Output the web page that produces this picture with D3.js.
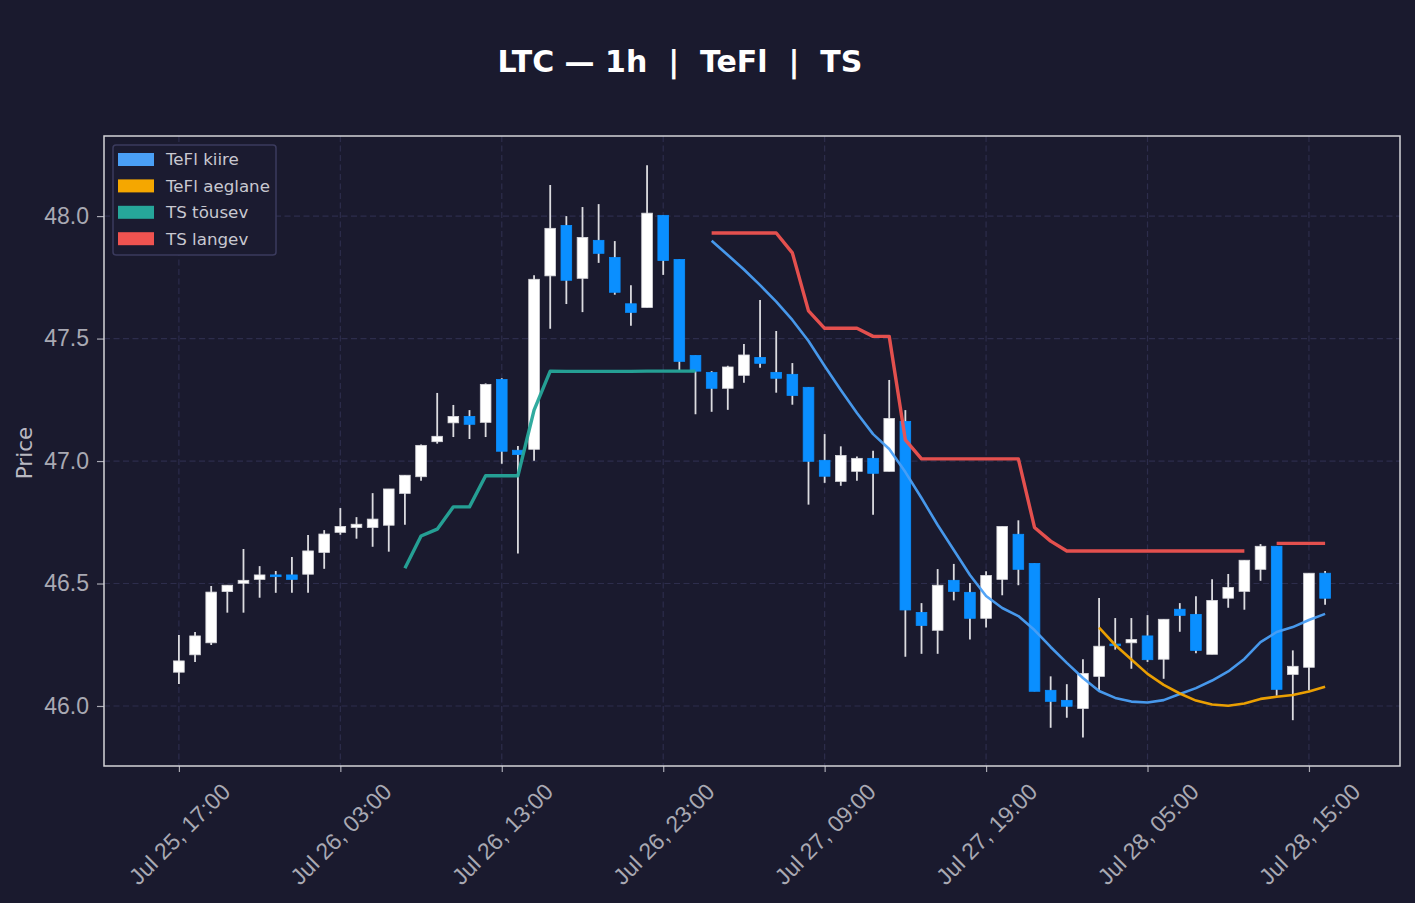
<!DOCTYPE html>
<html>
<head>
<meta charset="utf-8">
<script src="https://cdn.jsdelivr.net/npm/d3@7"></script>
<style>
  html, body { margin: 0; padding: 0; background: #1a1a2e; }
  svg { display: block; font-family: "DejaVu Sans", sans-serif; }
</style>
</head>
<body>
<svg id="chart" width="1415" height="903"></svg>
<script>
// ---------- DATA ----------
const startTime = "2024-07-25T17:00:00";
const opens  = [46.138,46.209,46.258,46.467,46.501,46.517,46.535,46.535,46.538,46.627,
                46.709,46.729,46.729,46.738,46.868,46.936,47.079,47.156,47.182,47.158,
                47.333,47.044,47.048,47.756,47.962,47.746,47.901,47.831,47.642,47.627,
                48.003,47.823,47.431,47.362,47.297,47.350,47.423,47.362,47.354,47.301,
                47.003,46.917,46.958,47.011,46.958,47.162,46.382,46.309,46.513,46.464,
                46.358,46.517,46.701,46.582,46.064,46.023,45.990,46.121,46.253,46.258,
                46.286,46.191,46.395,46.374,46.211,46.440,46.468,46.558,46.652,46.129,
                46.158,46.542];
const highs  = [46.290,46.302,46.490,46.493,46.641,46.571,46.551,46.608,46.698,46.718,
                46.808,46.771,46.869,46.886,46.942,47.068,47.278,47.229,47.208,47.317,
                47.338,47.061,47.758,48.127,48.000,48.037,48.049,47.898,47.718,48.208,
                48.003,47.823,47.431,47.367,47.389,47.478,47.657,47.531,47.400,47.301,
                47.110,47.060,47.019,47.042,47.331,47.208,46.420,46.559,46.580,46.502,
                46.550,46.733,46.758,46.582,46.121,46.089,46.191,46.441,46.359,46.359,
                46.371,46.354,46.420,46.448,46.517,46.539,46.595,46.661,46.652,46.227,
                46.542,46.551];
const lows   = [46.090,46.180,46.249,46.381,46.381,46.442,46.462,46.462,46.462,46.560,
                46.699,46.683,46.650,46.630,46.740,46.920,47.071,47.098,47.090,47.098,
                46.989,46.623,47.001,47.540,47.641,47.608,47.809,47.679,47.552,47.627,
                47.760,47.371,47.191,47.201,47.209,47.320,47.381,47.279,47.230,46.822,
                46.911,46.899,46.920,46.781,46.958,46.201,46.213,46.213,46.431,46.271,
                46.320,46.452,46.493,46.060,45.911,45.952,45.871,46.064,46.230,46.152,
                46.180,46.111,46.303,46.215,46.211,46.401,46.393,46.511,46.042,45.942,
                46.064,46.413];
const closes = [46.184,46.286,46.465,46.493,46.513,46.535,46.528,46.517,46.633,46.702,
                46.733,46.742,46.763,46.886,46.942,47.064,47.101,47.182,47.150,47.313,
                47.040,47.027,47.742,47.950,47.738,47.913,47.848,47.689,47.607,48.012,
                47.819,47.407,47.367,47.297,47.384,47.433,47.399,47.338,47.268,46.999,
                46.938,47.023,47.011,46.950,47.174,46.392,46.329,46.493,46.468,46.358,
                46.533,46.733,46.558,46.060,46.019,45.999,46.133,46.244,46.246,46.271,
                46.189,46.354,46.370,46.227,46.431,46.484,46.595,46.652,46.068,46.162,
                46.542,46.440];

const N = null;
const teflFast = [N,N,N,N,N,N,N,N,N,N, N,N,N,N,N,N,N,N,N,N, N,N,N,N,N,N,N,N,N,N, N,N,N,
                47.899,47.841,47.782,47.718,47.651,47.576,47.490,
                47.388,47.290,47.196,47.110,47.049,46.955,46.849,46.739,46.637,46.535,
                46.449,46.400,46.367,46.310,46.241,46.176,46.114,46.061,46.033,46.018,
                46.014,46.024,46.049,46.073,46.104,46.141,46.192,46.261,46.302,46.322,
                46.351,46.376];
const teflSlow = [N,N,N,N,N,N,N,N,N,N, N,N,N,N,N,N,N,N,N,N, N,N,N,N,N,N,N,N,N,N,
                N,N,N,N,N,N,N,N,N,N, N,N,N,N,N,N,N,N,N,N, N,N,N,N,N,N,N,
                46.320,46.249,46.190,46.131,46.086,46.051,46.022,46.006,46.001,46.010,
                46.029,46.038,46.045,46.059,46.079];
const tsUp = [N,N,N,N,N,N,N,N,N,N, N,N,N,N,
                46.562,46.694,46.722,46.813,46.813,46.940,46.940,46.940,47.208,47.367,
                47.366,47.366,47.366,47.366,47.366,47.367,47.367,47.367,47.367,
                N,N,N,N,N,N,N,N,N,N, N,N,N,N,N,N,N,N,N,N, N,N,N,N,N,N,N,N,N,N,
                N,N,N,N,N,N,N,N,N];
const tsDown = [N,N,N,N,N,N,N,N,N,N, N,N,N,N,N,N,N,N,N,N, N,N,N,N,N,N,N,N,N,N, N,N,N,
                47.931,47.931,47.931,47.931,47.931,47.850,47.613,
                47.542,47.542,47.542,47.509,47.509,47.086,47.009,47.009,47.009,47.009,
                47.009,47.009,47.009,46.729,46.673,46.633,46.633,46.633,46.633,46.633,
                46.633,46.633,46.633,46.633,46.633,46.633,46.633,N,46.664,46.664,
                46.664,46.664];

const yTicks = [46.0, 46.5, 47.0, 47.5, 48.0];
const xTickEveryHours = 10;
const titleText = "LTC — 1h  |  TeFl  |  TS";
const yLabel = "Price";
const legendNames = ["TeFl kiire", "TeFl aeglane", "TS tõusev", "TS langev"];

// ---------- STYLE ----------
const C = {
  bg: "#1a1a2e", grid: "#2d2d4c", spine: "#d4d4d8", tick: "#a9a9b3",
  up: "#ffffff", down: "#0a8fff", wick: "#dcdce0",
  fast: "#4a9ff5", slow: "#f5a700", tsUp: "#26a69a", tsDown: "#ef5350"
};
const legendColors = [C.fast, C.slow, C.tsUp, C.tsDown];

const M = { left: 104, right: 1400, top: 136, bottom: 766 };
const HOUR = 3600 * 1000;
const t0 = new Date(startTime);
const dates = opens.map((_, i) => new Date(t0.getTime() + i * HOUR));

const svg = d3.select("#chart");
svg.append("rect").attr("width", 1415).attr("height", 903).attr("fill", C.bg);

const x = d3.scaleTime()
  .domain([new Date(t0.getTime() - 4.64 * HOUR), new Date(t0.getTime() + 75.64 * HOUR)])
  .range([M.left, M.right]);
const y = d3.scaleLinear().domain([45.755, 48.327]).range([M.bottom, M.top]);

const xTickVals = d3.range(0, opens.length, xTickEveryHours).map(h => new Date(t0.getTime() + h * HOUR));
const fmt = d3.timeFormat("%b %d, %H:%M");

// grid
const gGrid = svg.append("g");
gGrid.selectAll("line.v").data(xTickVals).join("line")
  .attr("x1", d => x(d)).attr("x2", d => x(d)).attr("y1", M.top).attr("y2", M.bottom)
  .attr("stroke", C.grid).attr("stroke-width", 1.2).attr("stroke-dasharray", "6,3.5");
gGrid.selectAll("line.h").data(yTicks).join("line")
  .attr("x1", M.left).attr("x2", M.right).attr("y1", d => y(d)).attr("y2", d => y(d))
  .attr("stroke", C.grid).attr("stroke-width", 1.2).attr("stroke-dasharray", "6,3.5");

// axes
const xAxis = d3.axisBottom(x).tickValues(xTickVals).tickFormat(fmt).tickSize(6).tickPadding(8);
const gx = svg.append("g").attr("transform", `translate(0,${M.bottom})`).call(xAxis);
gx.select(".domain").remove();
gx.selectAll(".tick line").attr("stroke", C.tick).attr("stroke-width", 1.2);
gx.selectAll(".tick text")
  .attr("fill", C.tick).attr("font-size", 23)
  .attr("text-anchor", "middle").attr("dy", "0.35em").attr("y", 0)
  .attr("transform", "translate(0,68) rotate(-45)");

const yAxis = d3.axisLeft(y).tickValues(yTicks).tickFormat(d3.format(".1f")).tickSize(7).tickPadding(8);
const gy = svg.append("g").attr("transform", `translate(${M.left},0)`).call(yAxis);
gy.select(".domain").remove();
gy.selectAll(".tick line").attr("stroke", C.tick).attr("stroke-width", 1.2);
gy.selectAll(".tick text").attr("fill", C.tick).attr("font-size", 23);

// candles
const idx = d3.range(opens.length);
const bw = (x(dates[1]) - x(dates[0])) * 0.66;
const gC = svg.append("g");
gC.selectAll("line.wick").data(idx).join("line")
  .attr("x1", i => x(dates[i])).attr("x2", i => x(dates[i]))
  .attr("y1", i => y(highs[i])).attr("y2", i => y(lows[i]))
  .attr("stroke", C.wick).attr("stroke-width", 1.8);
gC.selectAll("rect.body").data(idx).join("rect")
  .attr("x", i => x(dates[i]) - bw / 2).attr("width", bw)
  .attr("y", i => y(Math.max(opens[i], closes[i])))
  .attr("height", i => Math.max(1.5, Math.abs(y(opens[i]) - y(closes[i]))))
  .attr("fill", i => closes[i] >= opens[i] ? C.up : C.down)
  .attr("stroke", i => closes[i] >= opens[i] ? "#d8d8dc" : C.down)
  .attr("stroke-width", 0.8);

// lines
function drawLine(arr, color, w) {
  const line = d3.line().defined(i => arr[i] !== null)
    .x(i => x(dates[i])).y(i => y(arr[i]));
  svg.append("path").datum(idx).attr("d", line)
    .attr("fill", "none").attr("stroke", color).attr("stroke-width", w)
    .attr("stroke-linejoin", "round").attr("opacity", 0.95);
}
drawLine(tsUp, C.tsUp, 3.4);
drawLine(tsDown, C.tsDown, 3.4);
drawLine(teflFast, C.fast, 2.6);
drawLine(teflSlow, C.slow, 2.6);

// spines
svg.append("rect").attr("x", M.left).attr("y", M.top)
  .attr("width", M.right - M.left).attr("height", M.bottom - M.top)
  .attr("fill", "none").attr("stroke", C.spine).attr("stroke-width", 1.5);

// title & label
svg.append("text").attr("x", 680).attr("y", 72).attr("text-anchor", "middle")
  .attr("fill", "#ffffff").attr("font-size", 30).attr("font-weight", "bold")
  .style("white-space", "pre").attr("xml:space", "preserve").text(titleText);
svg.append("text").attr("transform", "translate(32,453) rotate(-90)")
  .attr("text-anchor", "middle").attr("fill", "#b9b9c2").attr("font-size", 21.5).text(yLabel);

// legend
const gL = svg.append("g");
gL.append("rect").attr("x", 113).attr("y", 145).attr("width", 163).attr("height", 110)
  .attr("rx", 3).attr("fill", "#1b1b30").attr("stroke", "#3b3b5e").attr("stroke-width", 1.5);
legendNames.forEach((name, k) => {
  const cy = 159.5 + k * 26.4;
  gL.append("rect").attr("x", 118).attr("y", cy - 6.5).attr("width", 36).attr("height", 13)
    .attr("fill", legendColors[k]);
  gL.append("text").attr("x", 166).attr("y", cy).attr("dy", "0.35em")
    .attr("fill", "#c8c8d0").attr("font-size", 16.7).text(name);
});
</script>
</body>
</html>
